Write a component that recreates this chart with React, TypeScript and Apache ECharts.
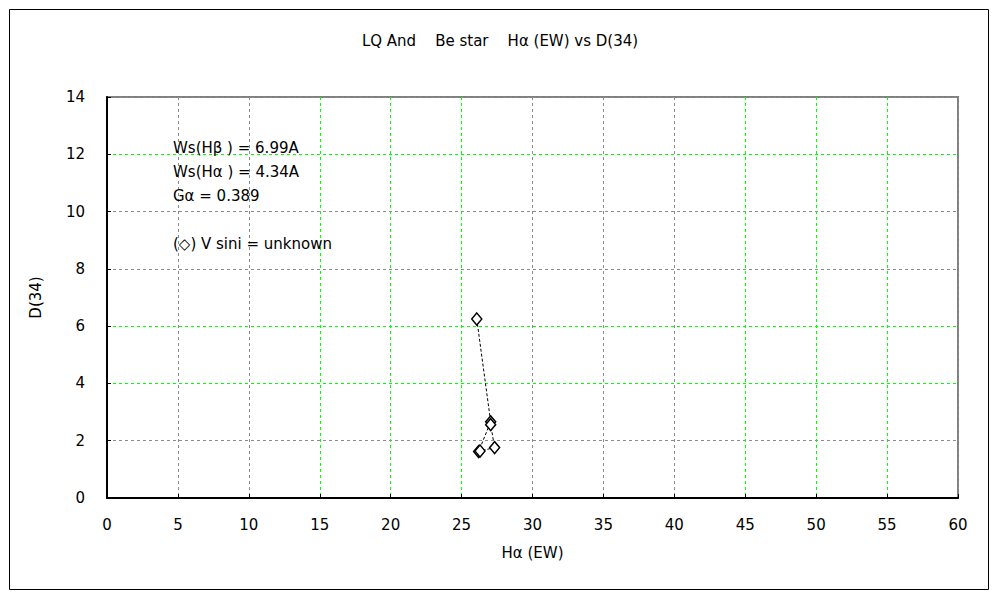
import React, { useEffect, useRef } from "react";
import * as echarts from "echarts";

const titleText = "LQ And    Be star    H\u03b1 (EW) vs D(34)";
const xAxisName = "H\u03b1 (EW)";
const yAxisName = "D(34)";
const notes = [
  "Ws(H\u03b2 ) = 6.99A",
  "Ws(H\u03b1 ) = 4.34A",
  "G\u03b1 = 0.389",
  "",
  "(\u25c7) V sini = unknown",
];
// observations, in observation order
const haEW = [26.07, 27.05, 26.2, 26.3, 27.33, 27.05];
const d34 = [6.25, 2.66, 1.62, 1.64, 1.76, 2.56];

const GREEN = "#00ff00";
const GRAY = "#8c8c8c";
const xGridColors = [GRAY, GRAY, GRAY, GREEN, GREEN, GREEN, GRAY, GRAY, GRAY, GREEN, GREEN, GREEN, GRAY];
const yGridColors = [GRAY, GRAY, GREEN, GREEN, GRAY, GRAY, GREEN, GRAY];

const FONT = "'DejaVu Sans', 'Noto Sans CJK JP', sans-serif";
const FS = 15;

export default function App() {
  const ref = useRef<HTMLDivElement>(null);
  useEffect(() => {
    document.body.style.margin = "0";
    const chart = echarts.init(ref.current!, undefined, { renderer: "svg" });
    const data = haEW.map((x, i) => [x, d34[i]]);
    chart.setOption({
      animation: false,
      backgroundColor: "#ffffff",
      textStyle: { fontFamily: FONT },
      title: {
        text: titleText,
        left: "center",
        top: 28,
        textStyle: { fontSize: FS, fontWeight: "normal", color: "#000", fontFamily: FONT },
      },
      grid: {
        left: 107,
        top: 97,
        width: 851,
        height: 401,
        show: true,
        borderColor: "#808080",
        borderWidth: 2,
        backgroundColor: "#ffffff",
      },
      xAxis: {
        type: "value",
        min: 0,
        max: 60,
        interval: 5,
        name: xAxisName,
        nameLocation: "middle",
        nameGap: 47,
        nameTextStyle: { fontSize: FS, color: "#000", fontFamily: FONT },
        axisLine: { show: true, onZero: false, lineStyle: { color: "#000", width: 2 } },
        axisTick: { show: true, inside: true, length: 4, lineStyle: { color: "#000" } },
        axisLabel: { fontSize: FS, color: "#000", margin: 19, fontFamily: FONT },
        splitLine: { show: true, lineStyle: { color: xGridColors, type: [3, 3], width: 1 } },
      },
      yAxis: {
        type: "value",
        min: 0,
        max: 14,
        interval: 2,
        name: yAxisName,
        nameLocation: "middle",
        nameGap: 64,
        nameRotate: 90,
        nameTextStyle: { fontSize: FS, color: "#000", fontFamily: FONT },
        axisLine: { show: true, onZero: false, lineStyle: { color: "#000", width: 2 } },
        axisTick: { show: true, inside: true, length: 4, lineStyle: { color: "#000" } },
        axisLabel: { fontSize: FS, color: "#000", margin: 22, fontFamily: FONT },
        splitLine: { show: true, lineStyle: { color: yGridColors, type: [3, 3], width: 1 } },
      },
      graphic: [
        {
          type: "rect",
          shape: { x: 9.5, y: 9.5, width: 979, height: 580 },
          style: { fill: "none", stroke: "#000", lineWidth: 1 },
          silent: true,
          z: -1,
        },
        ...notes.map((t, i) => ({
          type: "text",
          left: 173,
          top: 140 + i * 24,
          style: { text: t, fontSize: FS, fill: "#000", fontFamily: FONT },
          z: 100,
        })),
      ],
      series: [
        {
          type: "line",
          data,
          symbol: "diamond",
          symbolSize: [10, 12],
          showAllSymbol: true,
          itemStyle: { color: "#ffffff", borderColor: "#000", borderWidth: 1.5 },
          lineStyle: { color: "#000", width: 1, type: [3, 2] },
          z: 10,
        },
      ],
    });
    return () => chart.dispose();
  }, []);
  return <div ref={ref} style={{ width: 1000, height: 600 }} />;
}
